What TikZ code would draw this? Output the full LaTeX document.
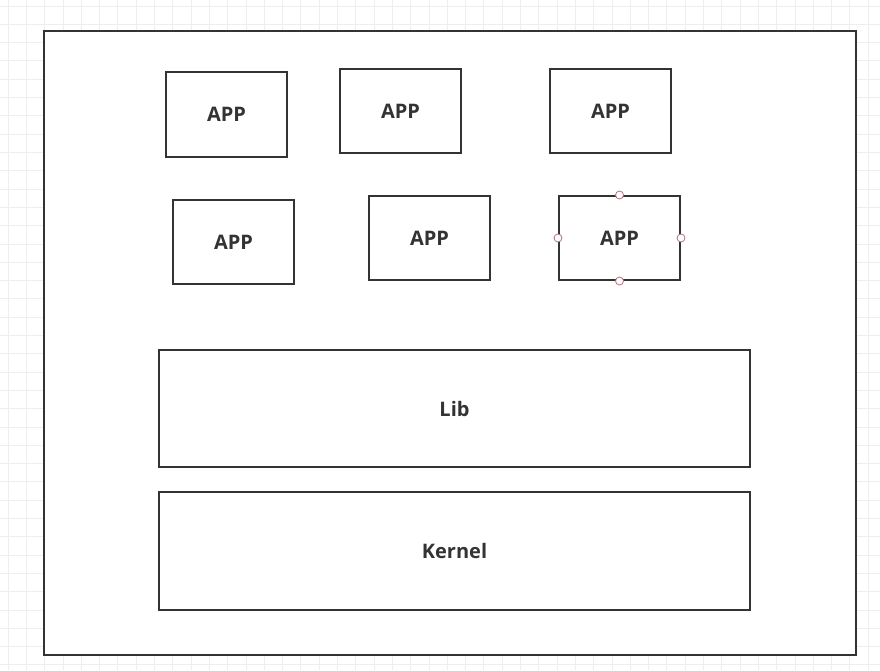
\documentclass[tikz,border=0pt]{standalone}
\usepackage{fontspec}
\setmainfont{Open Sans}
\definecolor{linec}{HTML}{333333}
\definecolor{gridc}{HTML}{EEEEEE}
\definecolor{handlec}{HTML}{B5707E}
\begin{document}
\begin{tikzpicture}[x=0.75pt,y=-0.75pt,
  box/.style={draw=linec,line width=1.5pt,fill=white},
  lbl/.style={text=linec,font=\bfseries\fontsize{15}{17}\selectfont},
  handle/.style={circle,draw=handlec,fill=white,line width=0.6pt,inner sep=0pt,minimum size=6pt}]
\useasboundingbox (0,0) rectangle (880,670);
\fill[white] (0,0) rectangle (880,670);
\foreach \i in {0,...,48} {\draw[gridc,line width=0.6pt] ({8+18.3*\i},0) -- ({8+18.3*\i},670);}
\foreach \i in {0,...,37} {\draw[gridc,line width=0.6pt] (0,{6+18.3*\i}) -- (880,{6+18.3*\i});}
\draw[box] (44,31) rectangle (856,655);
\node[box,minimum width=90.75pt,minimum height=63.75pt,lbl] (a1) at (226.5,114.5) {APP};
\node[box,minimum width=90.75pt,minimum height=63pt,lbl] (a2) at (400.5,111) {APP};
\node[box,minimum width=90.75pt,minimum height=63pt,lbl] (a3) at (610.5,111) {APP};
\node[box,minimum width=90.75pt,minimum height=63pt,lbl] (a4) at (233.5,242) {APP};
\node[box,minimum width=90.75pt,minimum height=63pt,lbl] (a5) at (429.5,238) {APP};
\node[box,minimum width=90.75pt,minimum height=63pt,lbl] (a6) at (619.5,238) {APP};
\node[box,minimum width=443.25pt,minimum height=87.75pt,lbl] (lib) at (454.5,408.5) {Lib};
\node[box,minimum width=443.25pt,minimum height=88.5pt,lbl] (kern) at (454.5,551) {Kernel};
\node[handle] (h1) at (a6.north) {};
\node[handle] (h2) at (a6.south) {};
\node[handle] (h3) at (a6.west) {};
\node[handle] (h4) at (a6.east) {};
\end{tikzpicture}
\end{document}
